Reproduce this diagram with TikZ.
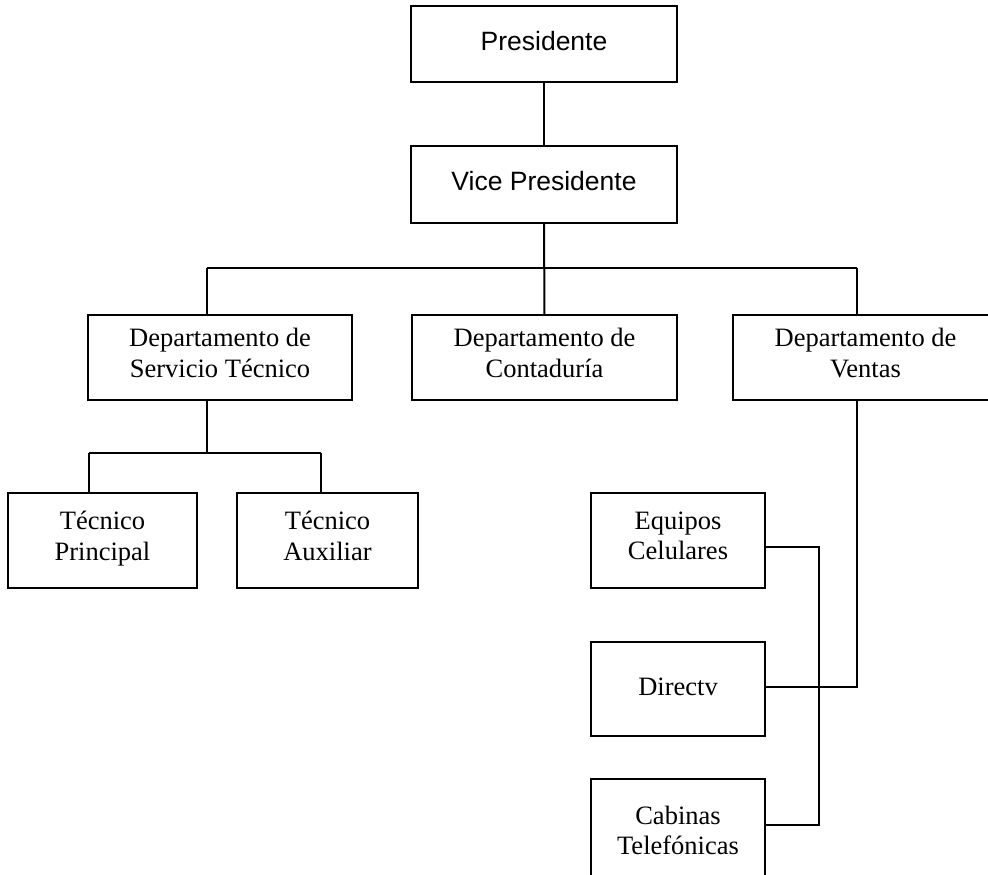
\documentclass[tikz,border=0pt]{standalone}
\usepackage{fontspec}
\setmainfont{Liberation Serif}
\newfontfamily\arialfont{Liberation Sans}
\usepackage{tikz}

\begin{document}
\begin{tikzpicture}[
    x=1pt, y=-1pt,
    unit/.style={rectangle, draw, line width=2pt, inner sep=0pt, align=center,
        font=\fontsize{26.5}{30.5}\selectfont,
        execute at begin node=\strut, execute at end node=\strut},
    boss/.style={unit, font=\arialfont\fontsize{26.5}{30.5}\selectfont},
    link/.style={line width=2pt}
]
\useasboundingbox (0,0) rectangle (988,875);

\node[boss, minimum width=266pt, minimum height=76pt] (pres) at (544,44) {Presidente};
\node[boss, minimum width=266pt, minimum height=77pt] (vice) at (544,184.5) {Vice Presidente};
\node[unit, minimum width=264pt, minimum height=85pt] (serv) at (220,357.5) {Departamento de\\Servicio Técnico};
\node[unit, minimum width=265pt, minimum height=85pt] (cont) at (544.5,357.5) {Departamento de\\Contaduría};
\node[unit, minimum width=265pt, minimum height=85pt] (vent) at (865.5,357.5) {Departamento de\\Ventas};
\node[unit, minimum width=189pt, minimum height=95pt] (tprin) at (102.5,540.5) {Técnico\\Principal};
\node[unit, minimum width=181pt, minimum height=95pt] (taux) at (327.5,540.5) {Técnico\\Auxiliar};
\node[unit, minimum width=174pt, minimum height=95pt] (equi) at (678,540.5) {Equipos\\Celulares};
\node[unit, minimum width=174pt, minimum height=94pt] (dirtv) at (678,689) {Directv};
\node[unit, minimum width=174pt, minimum height=112pt] (cabi) at (678,835) {Cabinas\\Telefónicas};

\coordinate (busL) at (207,268);
\coordinate (busR) at (857,268);
\coordinate (servL) at (89,453);
\coordinate (servR) at (321,453);
\coordinate (ventD) at (857,687);
\coordinate (ramal) at (819,547);

\draw[link] (pres) -- (vice);
\draw[link] (vice) -- (cont);
\draw[link] (busL) -- (busR);
\draw[link] (busL) -- (busL |- serv.north);
\draw[link] (busR) -- (busR |- vent.north);
\draw[link] (serv.south -| busL) -- (busL |- servL);
\draw[link] (servL) -- (servR);
\draw[link] (servL) -- (servL |- tprin.north);
\draw[link] (servR) -- (servR |- taux.north);
\draw[link] (busR |- vent.south) -- (ventD) -- (dirtv.east |- ventD);
\draw[link] (equi.east |- ramal) -- (ramal) -- (ramal |- 0,825) -- (cabi.east |- 0,825);

\end{tikzpicture}
\end{document}
